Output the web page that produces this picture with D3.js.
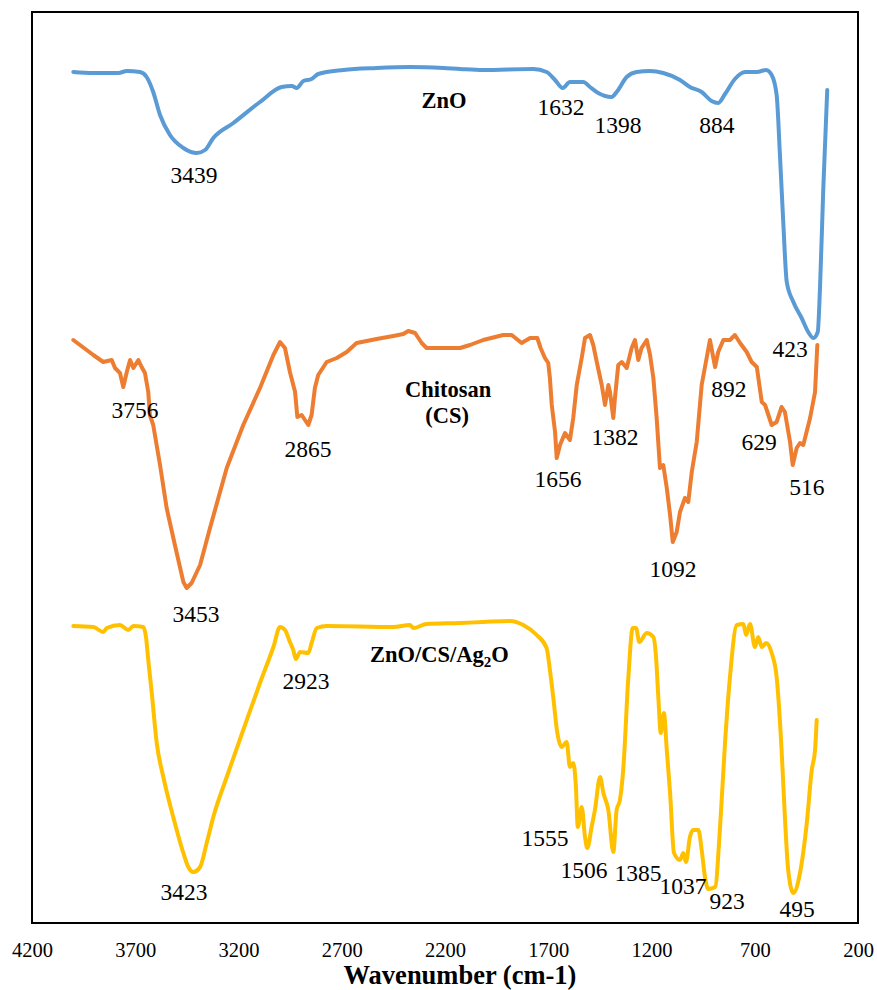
<!DOCTYPE html>
<html>
<head>
<meta charset="utf-8">
<script src="https://cdn.jsdelivr.net/npm/d3@7/dist/d3.min.js"></script>
<style>
  html, body { margin: 0; padding: 0; background: #fff; }
  svg { display: block; }
  svg text { font-family: "Liberation Serif", "Times New Roman", serif; }
</style>
</head>
<body>
<svg id="chart" width="877" height="990"></svg>
<script>
// ---- Data (wavenumber cm-1, relative transmittance a.u.) ----
const zno = [[4000,851],[3903,850],[3782,850],[3741,852],[3677,851],[3645,846],[3613,831],[3580,808],[3532,788],[3467,775],[3430,771],[3402,770],[3362,773],[3322,785],[3225,800],[3096,821],[2991,836],[2942,837],[2918,835],[2886,842],[2846,844],[2814,849],[2692,853],[2531,855],[2370,856],[2208,855],[2127,854],[2015,853],[1772,854],[1708,851],[1667,843],[1630,835],[1595,841],[1530,841],[1498,836],[1458,830],[1393,826],[1369,831],[1320,846],[1272,851],[1207,852],[1143,850],[1062,843],[1014,836],[957,831],[909,822],[877,820],[844,829],[796,844],[747,851],[690,851],[645,853],[618,848],[594,828],[578,768],[562,701],[545,641],[513,621],[473,605],[441,591],[416,585],[395,591],[384,635],[368,735],[349,833]];

const chitosan = [[4000,583],[3903,568],[3855,561],[3814,563],[3798,555],[3774,550],[3758,536],[3741,551],[3725,563],[3709,555],[3685,563],[3669,556],[3653,550],[3637,531],[3629,508],[3613,498],[3580,458],[3548,415],[3508,378],[3467,341],[3451,335],[3427,340],[3386,358],[3338,395],[3257,455],[3177,498],[3096,535],[3031,568],[2999,581],[2975,575],[2951,551],[2926,531],[2915,506],[2894,508],[2862,498],[2846,508],[2830,535],[2814,548],[2773,561],[2724,565],[2676,571],[2628,580],[2531,584],[2450,587],[2402,589],[2378,592],[2345,590],[2313,580],[2289,575],[2176,575],[2127,575],[2079,578],[2015,583],[1918,588],[1877,588],[1829,580],[1788,585],[1753,585],[1737,575],[1716,565],[1700,560],[1692,545],[1683,518],[1667,491],[1659,465],[1643,478],[1619,490],[1595,483],[1579,505],[1562,538],[1538,565],[1522,585],[1498,588],[1482,578],[1465,561],[1441,538],[1425,518],[1409,538],[1401,531],[1385,505],[1377,525],[1361,558],[1344,561],[1320,555],[1296,575],[1280,583],[1264,563],[1248,575],[1223,583],[1207,568],[1191,545],[1175,505],[1159,455],[1143,458],[1126,435],[1110,408],[1097,381],[1078,391],[1062,411],[1038,425],[1022,421],[1005,451],[981,481],[957,538],[933,565],[917,583],[892,556],[877,571],[852,583],[820,583],[796,588],[771,580],[739,571],[715,561],[690,556],[666,521],[650,518],[618,498],[594,501],[570,516],[554,511],[529,481],[516,458],[497,475],[481,480],[465,478],[432,505],[408,531],[397,578]];

const composite = [[4000,297],[3903,296],[3855,291],[3838,295],[3774,298],[3734,293],[3709,297],[3661,296],[3648,286],[3637,263],[3620,230],[3596,180],[3564,146],[3516,106],[3467,70],[3443,56],[3419,51],[3386,56],[3354,80],[3322,106],[3257,146],[3177,193],[3096,240],[3031,276],[2999,296],[2975,293],[2951,281],[2935,273],[2922,264],[2902,271],[2862,270],[2846,280],[2821,295],[2773,297],[2450,296],[2370,298],[2353,295],[2289,299],[2127,300],[2015,301],[1885,302],[1821,298],[1756,288],[1708,275],[1692,253],[1676,226],[1656,190],[1635,176],[1611,181],[1595,156],[1579,160],[1566,136],[1557,96],[1538,116],[1522,86],[1511,75],[1490,96],[1474,113],[1449,146],[1433,130],[1409,113],[1385,71],[1369,113],[1353,123],[1337,153],[1312,246],[1291,295],[1275,295],[1259,281],[1223,290],[1191,286],[1178,266],[1167,226],[1155,190],[1140,210],[1126,173],[1110,130],[1091,70],[1062,63],[1046,70],[1033,61],[1014,86],[998,93],[973,93],[957,73],[941,46],[925,34],[892,36],[868,96],[844,180],[820,246],[787,298],[755,299],[742,288],[723,299],[699,276],[683,286],[666,276],[645,280],[618,270],[594,246],[570,173],[554,106],[538,53],[513,30],[481,50],[448,100],[424,153],[408,173],[400,203]];

const xTicks = [4200, 3700, 3200, 2700, 2200, 1700, 1200, 700, 200];

// peak annotations: [text, wavenumber position, value position]
const znoPeaks = [["3439",3416,740],["1632",1638,808],["1398",1362,790],["884",883,790],["423",529,566]];
const chitosanPeaks = [["3756",3701,505],["2865",2863,466],["3453",3406,301],["1656",1653,436],["1382",1377,478],["1092",1096,346],["892",825,526],["629",679,473],["516",447,428]];
const compositePeaks = [["2923",2873,234],["3423",3464,23],["1555",1716,77],["1506",1527,45],["1385",1265,42],["1037",1047,29],["923",834,14],["495",495,6]];

const seriesColors = ["#5B9BD5", "#ED7D31", "#FFC000"];

(function draw() {
  const svg = d3.select("#chart");
  const mLeft = 32, mRight = 858, mTop = 12, mBottom = 923;
  const serif = "Liberation Serif";

  const x = d3.scaleLinear().domain([4200, 200]).range([mLeft, mRight]);
  const y = d3.scaleLinear().domain([0, 911]).range([mBottom, mTop]);

  svg.append("rect").attr("width", 877).attr("height", 990).attr("fill", "#fff");

  // frame
  svg.append("rect")
    .attr("x", mLeft).attr("y", mTop)
    .attr("width", mRight - mLeft).attr("height", mBottom - mTop)
    .attr("fill", "none").attr("stroke", "#000").attr("stroke-width", 2);

  // x axis
  const xAxis = d3.axisBottom(x).tickValues(xTicks).tickSize(0).tickPadding(19).tickFormat(d3.format("d"));
  const gx = svg.append("g").attr("transform", `translate(0,${mBottom})`).call(xAxis);
  gx.attr("font-family", serif);
  gx.select(".domain").remove();
  gx.selectAll("text").attr("font-family", serif).attr("font-size", 20.5).attr("fill", "#000");

  svg.append("text")
    .attr("x", 460).attr("y", 984)
    .attr("text-anchor", "middle")
    .attr("font-family", serif).attr("font-size", 26.5).attr("font-weight", "bold")
    .text("Wavenumber (cm-1)");

  // curves
  const smooth = d3.line().x(d => x(d[0])).y(d => y(d[1])).curve(d3.curveMonotoneX);
  const jagged = d3.line().x(d => x(d[0])).y(d => y(d[1])).curve(d3.curveLinear);

  const plot = svg.append("g");
  [[zno, smooth, 0], [chitosan, jagged, 1], [composite, smooth, 2]].forEach(([data, gen, i]) => {
    plot.append("path").datum(data).attr("d", gen)
      .attr("fill", "none").attr("stroke", seriesColors[i]).attr("stroke-width", 4)
      .attr("stroke-linejoin", "round").attr("stroke-linecap", "round");
  });

  // peak labels
  const allPeaks = znoPeaks.concat(chitosanPeaks, compositePeaks);
  svg.append("g").selectAll("text").data(allPeaks).join("text")
    .attr("x", d => x(d[1])).attr("y", d => y(d[2]))
    .attr("text-anchor", "middle")
    .attr("font-family", serif).attr("font-size", 23.5).attr("fill", "#000")
    .text(d => d[0]);

  // series names
  const nameG = svg.append("g").attr("font-family", serif).attr("font-size", 22.5)
    .attr("font-weight", "bold").attr("text-anchor", "middle").attr("fill", "#000");
  nameG.append("text").attr("x", x(2205)).attr("y", y(815)).text("ZnO");
  nameG.append("text").attr("x", x(2185)).attr("y", y(526)).text("Chitosan");
  nameG.append("text").attr("x", x(2190)).attr("y", y(500)).text("(CS)");
  const comp = nameG.append("text").attr("x", x(2227)).attr("y", y(261));
  comp.append("tspan").text("ZnO/CS/Ag");
  comp.append("tspan").attr("font-size", 15).attr("dy", 5).text("2");
  comp.append("tspan").attr("dy", -5).text("O");
})();
</script>
</body>
</html>
